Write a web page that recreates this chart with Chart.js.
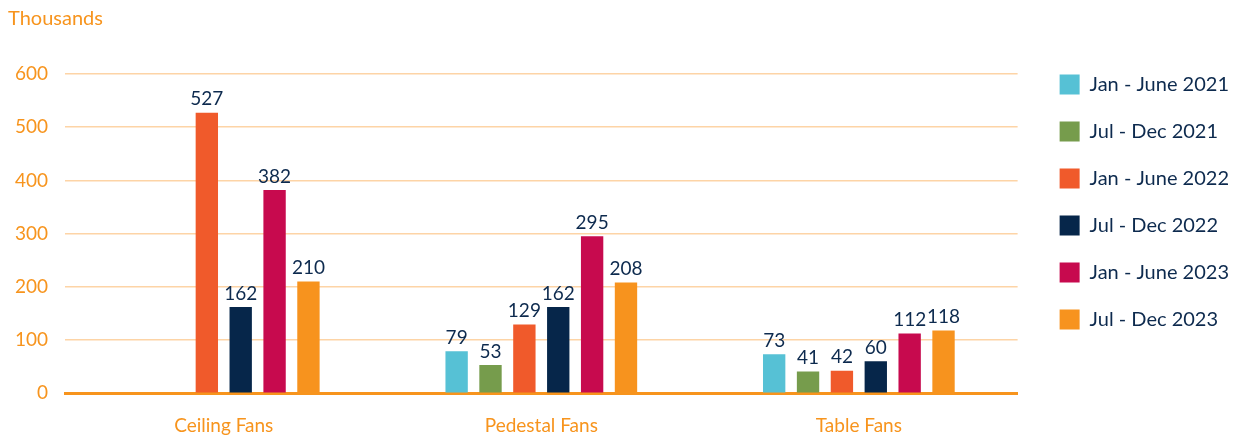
<!DOCTYPE html>
<html>
<head>
<meta charset="utf-8">
<script src="https://cdn.jsdelivr.net/npm/chart.js@4/dist/chart.umd.min.js"></script>
<style>
  html, body { margin: 0; padding: 0; background: #fff; }
  #wrap { width: 1247px; height: 436px; }
</style>
</head>
<body>
<div id="wrap"><canvas id="fanChart"></canvas></div>
<script>
// ---------------- data ----------------
var categories = ["Ceiling Fans", "Pedestal Fans", "Table Fans"];
var seriesNames = ["Jan - June 2021", "Jul - Dec 2021", "Jan - June 2022", "Jul - Dec 2022", "Jan - June 2023", "Jul - Dec 2023"];
var janJun2021 = [null, 79, 73];
var julDec2021 = [null, 53, 41];
var janJun2022 = [527, 129, 42];
var julDec2022 = [162, 162, 60];
var janJun2023 = [382, 295, 112];
var julDec2023 = [210, 208, 118];
var yTicks = [0, 100, 200, 300, 400, 500, 600];

var seriesValues = [janJun2021, julDec2021, janJun2022, julDec2022, janJun2023, julDec2023];
var seriesColors = ["#56c1d5", "#769c4c", "#f05a2b", "#06264a", "#c70a4e", "#f7931e"];

var ORANGE = "#f7941d";
var NAVY = "#0d2a4e";
var FONT = "Lato";
var LEGEND_GAP = 15; // extra room between plot and legend

// value labels on top of bars
var valueLabels = {
  id: "valueLabels",
  afterDatasetsDraw: function (chart) {
    var ctx = chart.ctx;
    ctx.save();
    ctx.fillStyle = NAVY;
    ctx.font = "19px " + FONT;
    ctx.textAlign = "center";
    ctx.textBaseline = "bottom";
    chart.data.datasets.forEach(function (ds, i) {
      var meta = chart.getDatasetMeta(i);
      meta.data.forEach(function (bar, j) {
        var v = ds.data[j];
        if (v === null || v === undefined) return;
        ctx.fillText(v, bar.x, bar.y - 4);
      });
    });
    ctx.restore();
  }
};

// push the legend a little away from the plot
var legendGap = {
  id: "legendGap",
  beforeLayout: function (chart) {
    var lg = chart.legend;
    if (lg && !lg._gapPatched) {
      var fit = lg.fit;
      lg.fit = function () { fit.call(this); this.width += LEGEND_GAP; };
      lg._gapPatched = true;
    }
  },
  afterLayout: function (chart) {
    if (chart.legend) chart.legend.left += LEGEND_GAP;
  }
};

new Chart("fanChart", {
  type: "bar",
  data: {
    labels: categories,
    datasets: seriesNames.map(function (name, i) {
      return {
        label: name,
        data: seriesValues[i],
        backgroundColor: seriesColors[i],
        categoryPercentage: 0.64,
        barPercentage: 0.66
      };
    })
  },
  options: {
    responsive: true,
    maintainAspectRatio: false,
    animation: false,
    layout: { padding: { left: 8, right: 8, top: 0, bottom: -22 } },
    plugins: {
      title: {
        display: true,
        text: "Thousands",
        align: "start",
        color: ORANGE,
        font: { family: FONT, size: 20, weight: "normal" },
        padding: { top: 7, bottom: 43 }
      },
      legend: {
        position: "right",
        align: "start",
        title: { display: true, text: " ", font: { size: 12 }, padding: { top: 16, bottom: 17 } },
        labels: {
          color: NAVY,
          font: { family: FONT, size: 20 },
          boxWidth: 20,
          boxHeight: 20,
          padding: 27
        }
      },
      tooltip: { enabled: false }
    },
    scales: {
      x: {
        grid: { display: false, drawTicks: false },
        border: { display: true, color: ORANGE, width: 3 },
        ticks: {
          color: ORANGE,
          font: { family: FONT, size: 19 },
          padding: 21
        }
      },
      y: {
        min: yTicks[0],
        max: yTicks[yTicks.length - 1],
        afterBuildTicks: function (axis) {
          axis.ticks = yTicks.map(function (v) { return { value: v }; });
        },
        afterFit: function (axis) { axis.width = 57; },
        grid: {
          color: function (c) { return c.tick && c.tick.value === 0 ? "rgba(0,0,0,0)" : "#fdd4a6"; },
          lineWidth: 1.5,
          drawTicks: false
        },
        border: { display: false },
        ticks: {
          color: ORANGE,
          font: { family: FONT, size: 19 },
          padding: 17
        }
      }
    }
  },
  plugins: [valueLabels, legendGap]
});
</script>
</body>
</html>
